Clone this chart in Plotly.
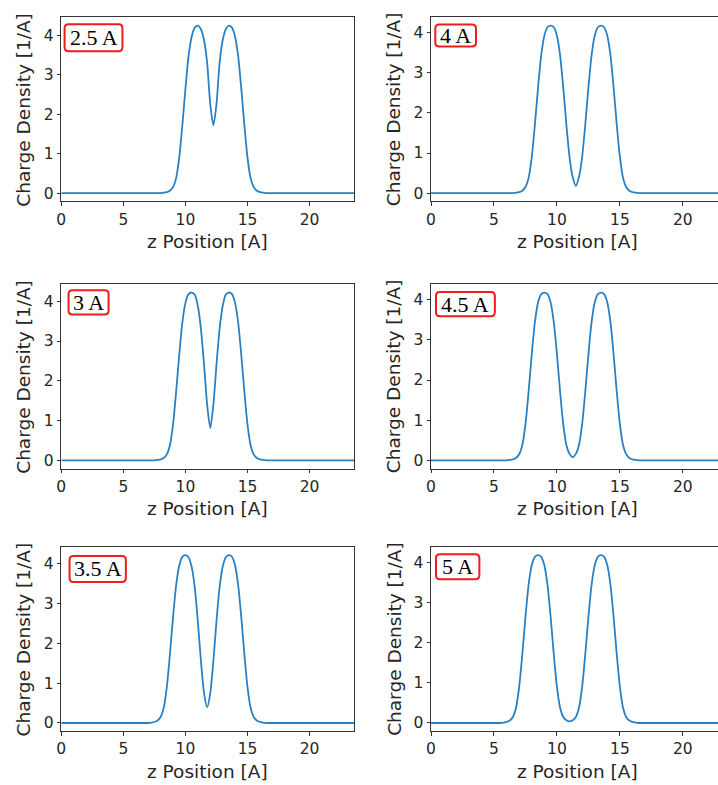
import plotly.graph_objects as go
from plotly.subplots import make_subplots

# ---------------- data ----------------
z_pos = [0, 2, 4, 5,
         5.5, 5.75, 6.0, 6.25, 6.5, 6.75, 7.0, 7.25, 7.5, 7.75,
         8.0, 8.25, 8.5, 8.75, 9.0, 9.25, 9.5, 9.75, 10.0, 10.25,
         10.5, 10.75, 11.0, 11.25, 11.5, 11.75, 12.0, 12.25, 12.5, 12.75,
         13.0, 13.25, 13.5, 13.75, 14.0, 14.25, 14.5, 14.75, 15.0, 15.25,
         15.5, 15.75, 16.0, 16.25, 16.5,
         17, 18, 20, 22, 23.6]

dens_2_5 = [0, 0, 0, 0,
            0, 0, 0, 0, 0, 0, 0, 0, 0, 0,
            0, 0.01, 0.025, 0.06, 0.15, 0.38, 0.9, 1.72, 2.65, 3.47,
            3.97, 4.2, 4.25, 4.16, 3.88, 3.3, 2.25, 1.72, 2.25, 3.3,
            3.88, 4.16, 4.25, 4.2, 3.97, 3.47, 2.65, 1.72, 0.9, 0.38,
            0.15, 0.06, 0.025, 0.01, 0,
            0, 0, 0, 0, 0]

dens_3_0 = [0, 0, 0, 0,
            0, 0, 0, 0, 0, 0, 0, 0, 0, 0.01,
            0.025, 0.06, 0.15, 0.38, 0.9, 1.72, 2.65, 3.46, 3.96, 4.18,
            4.22, 4.17, 3.88, 3.3, 2.4, 1.4, 0.81, 1.4, 2.4, 3.3,
            3.88, 4.17, 4.22, 4.18, 3.96, 3.46, 2.65, 1.72, 0.9, 0.38,
            0.15, 0.06, 0.025, 0.01, 0,
            0, 0, 0, 0, 0]

dens_3_5 = [0, 0, 0, 0,
            0, 0, 0, 0, 0, 0, 0, 0.01, 0.025, 0.06,
            0.15, 0.38, 0.9, 1.72, 2.65, 3.45, 3.95, 4.17, 4.21, 4.16,
            3.92, 3.4, 2.55, 1.55, 0.75, 0.39, 0.75, 1.55, 2.55, 3.4,
            3.92, 4.16, 4.21, 4.17, 3.95, 3.45, 2.65, 1.72, 0.9, 0.38,
            0.15, 0.06, 0.025, 0.01, 0,
            0, 0, 0, 0, 0]

dens_4_0 = [0, 0, 0, 0,
            0, 0, 0, 0, 0, 0.01, 0.025, 0.06, 0.15, 0.38,
            0.9, 1.71, 2.64, 3.44, 3.93, 4.14, 4.18, 4.14, 3.93, 3.44,
            2.64, 1.71, 0.9, 0.4, 0.18, 0.4, 0.9, 1.71, 2.64, 3.44,
            3.93, 4.14, 4.18, 4.14, 3.93, 3.44, 2.64, 1.71, 0.9, 0.38,
            0.15, 0.06, 0.025, 0.01, 0,
            0, 0, 0, 0, 0]

dens_4_5 = [0, 0, 0, 0,
            0, 0, 0, 0.01, 0.025, 0.06, 0.15, 0.38, 0.9, 1.71,
            2.64, 3.44, 3.93, 4.14, 4.18, 4.14, 3.93, 3.44, 2.64, 1.71,
            0.9, 0.38, 0.16, 0.08, 0.16, 0.38, 0.9, 1.71, 2.64, 3.44,
            3.93, 4.14, 4.18, 4.14, 3.93, 3.44, 2.64, 1.71, 0.9, 0.38,
            0.15, 0.06, 0.025, 0.01, 0,
            0, 0, 0, 0, 0]

dens_5_0 = [0, 0, 0, 0,
            0, 0.01, 0.025, 0.06, 0.15, 0.38, 0.9, 1.71, 2.64, 3.44,
            3.93, 4.14, 4.18, 4.14, 3.93, 3.44, 2.64, 1.71, 0.9, 0.38,
            0.15, 0.07, 0.04, 0.07, 0.15, 0.38, 0.9, 1.71, 2.64, 3.44,
            3.93, 4.14, 4.18, 4.14, 3.93, 3.44, 2.64, 1.71, 0.9, 0.38,
            0.15, 0.06, 0.025, 0.01, 0,
            0, 0, 0, 0, 0]

panel_labels = ["2.5 A", "4 A", "3 A", "4.5 A", "3.5 A", "5 A"]
x_ticks = [0, 5, 10, 15, 20]
y_ticks = [0, 1, 2, 3, 4]
x_title = "z Position [A]"
y_title = "Charge Density [1/A]"

# ---------------- layout geometry (pixels) ----------------
W, H = 718, 785
col_px = {1: (56.7, 351.7), 2: (429.0, 718.0)}
col_center = {1: 204.2, 2: 576.5}
x_max = {1: 23.6, 2: 22.79}
row_px = {1: (17.3, 201.7), 2: (284.5, 469.3), 3: (547.5, 732.3)}
ytitle_x = {1: 18.5, 2: 391.5}
box_px = {
    (1, 1): (60.0, 24.3, 118.3, 51.2),
    (1, 2): (433.3, 24.5, 474.3, 46.5),
    (2, 1): (64.0, 290.7, 104.3, 315.0),
    (2, 2): (434.0, 292.3, 493.3, 316.7),
    (3, 1): (65.0, 556.7, 121.7, 582.7),
    (3, 2): (434.0, 555.0, 477.7, 580.0),
}

panels = [
    (dens_2_5, 1, 1, panel_labels[0]),
    (dens_4_0, 1, 2, panel_labels[1]),
    (dens_3_0, 2, 1, panel_labels[2]),
    (dens_4_5, 2, 2, panel_labels[3]),
    (dens_3_5, 3, 1, panel_labels[4]),
    (dens_5_0, 3, 2, panel_labels[5]),
]

AX = "#333333"
TXT = "#262626"
tick_font = dict(family="DejaVu Sans", size=15.5, color=TXT)
title_font = dict(family="DejaVu Sans", size=18.5, color=TXT)

fig = make_subplots(rows=3, cols=2)

def P(x, y):
    return f"{x / W:.5f},{1 - y / H:.5f}"

annotations = []
shapes = []
for dens, r, c, lab in panels:
    fig.add_trace(go.Scatter(
        x=z_pos, y=dens, mode="lines",
        line=dict(color="#2a80c4", width=1.8, shape="spline", smoothing=0.7),
        showlegend=False, hoverinfo="skip"), row=r, col=c)
    x0, x1 = col_px[c]
    y0, y1 = row_px[r]
    ymax = max(dens)
    fig.update_xaxes(domain=[x0 / W, x1 / W], range=[0, x_max[c]],
                     tickmode="array", tickvals=x_ticks,
                     ticks="outside", ticklen=3.5, tickwidth=1, tickcolor=AX,
                     showline=True, linecolor=AX, linewidth=1, mirror=True,
                     showgrid=False, zeroline=False, tickfont=tick_font,
                     row=r, col=c)
    fig.update_yaxes(domain=[1 - y1 / H, 1 - y0 / H],
                     range=[-0.05 * ymax, 1.05 * ymax],
                     tickmode="array", tickvals=y_ticks,
                     ticks="outside", ticklen=3.5, tickwidth=1, tickcolor=AX,
                     showline=True, linecolor=AX, linewidth=1,
                     mirror=(c == 1),
                     showgrid=False, zeroline=False, tickfont=tick_font,
                     row=r, col=c)
    # axis titles
    annotations.append(dict(text=x_title, xref="paper", yref="paper",
                            x=col_center[c] / W, y=1 - (y1 + 40) / H,
                            xanchor="center", yanchor="middle",
                            showarrow=False, font=title_font))
    annotations.append(dict(text=y_title, xref="paper", yref="paper",
                            x=ytitle_x[c] / W, y=1 - ((y0 + y1) / 2) / H,
                            xanchor="center", yanchor="middle", textangle=-90,
                            showarrow=False, font=title_font))
    # label box
    bx0, by0, bx1, by1 = box_px[(r, c)]
    rr = 4
    path = (f"M {P(bx0 + rr, by0)} L {P(bx1 - rr, by0)} Q {P(bx1, by0)} {P(bx1, by0 + rr)} "
            f"L {P(bx1, by1 - rr)} Q {P(bx1, by1)} {P(bx1 - rr, by1)} "
            f"L {P(bx0 + rr, by1)} Q {P(bx0, by1)} {P(bx0, by1 - rr)} "
            f"L {P(bx0, by0 + rr)} Q {P(bx0, by0)} {P(bx0 + rr, by0)} Z")
    shapes.append(dict(type="path", path=path, xref="paper", yref="paper",
                       line=dict(color="#ee1c1c", width=2),
                       fillcolor="white", layer="above"))
    annotations.append(dict(text=lab, xref="paper", yref="paper",
                            x=((bx0 + bx1) / 2) / W, y=1 - ((by0 + by1) / 2) / H,
                            xanchor="center", yanchor="middle", showarrow=False,
                            font=dict(family="Liberation Serif, Times New Roman, serif",
                                      size=22, color="black")))

fig.update_layout(width=W, height=H, margin=dict(l=0, r=0, t=0, b=0),
                  paper_bgcolor="white", plot_bgcolor="white",
                  annotations=annotations, shapes=shapes, showlegend=False)

fig.write_html("out.html")
